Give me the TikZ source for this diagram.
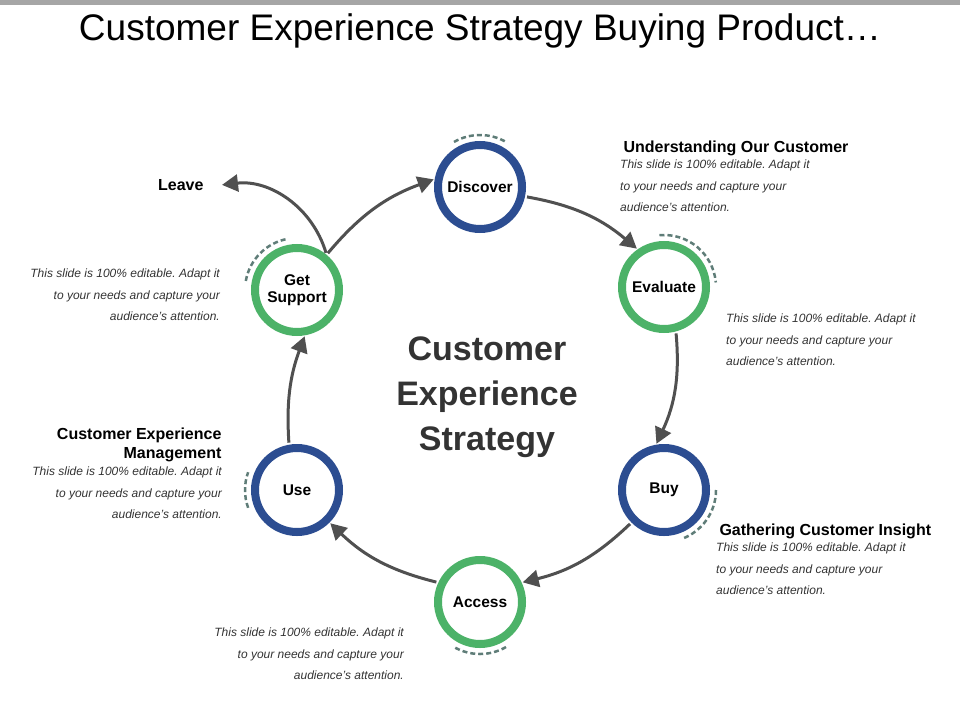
\documentclass[tikz,border=0pt]{standalone}
\usepackage{fontspec}
\setmainfont{Liberation Sans}
\frenchspacing
\usetikzlibrary{arrows.meta,positioning}
\definecolor{ringblue}{RGB}{44,77,145}
\definecolor{ringgreen}{RGB}{76,178,104}
\definecolor{arcgrey}{RGB}{95,125,120}
\definecolor{arrowgrey}{RGB}{80,80,80}
\tikzset{
  ring/.style={circle,draw,line width=8pt,minimum size=84pt,inner sep=0pt,fill=white,font=\fontsize{15.5}{17}\selectfont\bfseries,align=center},
  blue/.style={ring,draw=ringblue},
  green/.style={ring,draw=ringgreen},
  dasharc/.style={arcgrey,line width=2.5pt,dash pattern=on 5pt off 3pt},
  flow/.style={arrowgrey,line width=3pt,-{Triangle[length=16pt,width=17pt]},shorten >=1pt,shorten <=2pt},
  head/.style={font=\fontsize{16}{19}\selectfont\bfseries},
  body/.style={font=\fontsize{12}{21.3}\selectfont\itshape,text=black!80,inner sep=0pt}
}
\begin{document}
\begin{tikzpicture}[x=1pt,y=-1pt]
\useasboundingbox (0,0) rectangle (960,720);
\fill[gray!70] (0,0) rectangle (960,5);
\node (title) at (480,31) {\fontsize{37}{40}\selectfont Customer Experience Strategy Buying Product\ldots};

% rings
\node[blue] (disc) at (480,187) {Discover};
\node[green] (eval) at (664,287) {Evaluate};
\node[blue] (buy) at (664,490) {Buy};
\node[green] (acc) at (480,602) {Access};
\node[blue] (use) at (297,490) {Use};
\node[green] (sup) at (297,290) {Get\\Support};

% dashed arcs
\draw[dasharc] (disc.center) ++(-120:52) arc[start angle=-120,end angle=-60,radius=52];
\draw[dasharc] (eval.center) ++(-95:52) arc[start angle=-95,end angle=-5,radius=52];
\draw[dasharc] (buy.center) ++(0:52) arc[start angle=0,end angle=70,radius=52];
\draw[dasharc] (acc.center) ++(60:52) arc[start angle=60,end angle=120,radius=52];
\draw[dasharc] (use.center) ++(-200:52) arc[start angle=-200,end angle=-160,radius=52];
\draw[dasharc] (sup.center) ++(-170:52) arc[start angle=-170,end angle=-100,radius=52];

\node[head] (center) at (487,396) {\fontsize{34}{45}\selectfont\bfseries\color{black!80}\begin{tabular}{c}Customer\\Experience\\Strategy\end{tabular}};

% arrows
\draw[flow] (disc.-12) to[bend left=15] (eval.125);
\draw[flow] (eval.-75) to[bend left=15] (buy.100);
\draw[flow] (buy.-135) to[bend left=15] (acc.25);
\draw[flow] (acc.155) to[bend left=15] (use.-45);
\draw[flow] (use.100) to[bend left=12] (sup.-80);
\draw[flow] (sup.50) to[bend left=15] (disc.170);
\node[head,anchor=east] (leave) at (207,185) {Leave};
\draw[flow] (sup.50) to[bend right=40] ([xshift=14pt]leave.east);

% texts
\node[head,anchor=west] (h1) at (620,148) {Understanding Our Customer};
\node[body,anchor=north west,align=left] (t1) at (620,160) {This slide is 100\% editable. Adapt it\\to your needs and capture your\\audience's attention.};
\node[body,anchor=north west,align=left] (t2) at (726,314) {This slide is 100\% editable. Adapt it\\to your needs and capture your\\audience's attention.};
\node[head,anchor=west] (h3) at (716,531) {Gathering Customer Insight};
\node[body,anchor=north west,align=left] (t3) at (716,543) {This slide is 100\% editable. Adapt it\\to your needs and capture your\\audience's attention.};
\node[body,anchor=north east,align=right] (t4) at (404,628) {This slide is 100\% editable. Adapt it\\to your needs and capture your\\audience's attention.};
\node[head,anchor=east,align=right] (h5) at (225,445) {Customer Experience\\Management};
\node[body,anchor=north east,align=right] (t5) at (222,467) {This slide is 100\% editable. Adapt it\\to your needs and capture your\\audience's attention.};
\node[body,anchor=north east,align=right] (t6) at (220,269) {This slide is 100\% editable. Adapt it\\to your needs and capture your\\audience's attention.};
\end{tikzpicture}
\end{document}
